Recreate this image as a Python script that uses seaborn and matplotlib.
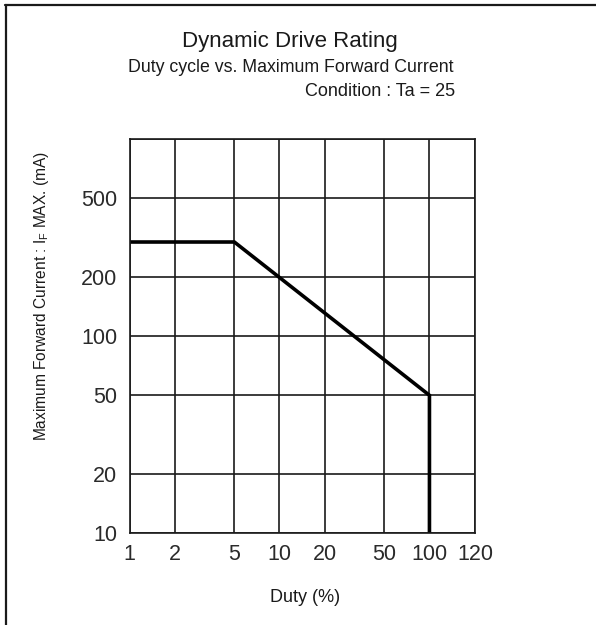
import numpy as np
import pandas as pd
import matplotlib
matplotlib.use("Agg")
import matplotlib.pyplot as plt
from matplotlib.lines import Line2D
import seaborn as sns

# Derating curve: duty cycle (%) vs. maximum forward current (mA)
duty = [1, 5, 100, 100]
current = [300, 300, 50, 10]

x_ticks = [1, 2, 5, 10, 20, 50, 100, 120]
y_ticks = [10, 20, 50, 100, 200, 500]
y_grid = [10, 20, 50, 100, 200, 500, 1000]

sns.set_theme(style="white")
plt.rcParams["font.family"] = ["Liberation Sans", "DejaVu Sans"]
plt.rcParams["mathtext.fontset"] = "custom"
plt.rcParams["mathtext.rm"] = "Liberation Sans"

ink = "#1a1a1a"


def fwd(x):
    x = np.asarray(x, dtype=float)
    xc = np.clip(x, 1e-6, None)
    return np.where(x <= 100, np.log10(xc), 2 + (x - 100) * 0.307 / 20)


def inv(v):
    v = np.asarray(v, dtype=float)
    return np.where(v <= 2, 10 ** np.minimum(v, 2), 100 + (v - 2) * 20 / 0.307)


fig = plt.figure(figsize=(5.96, 6.25), dpi=100)
ax = fig.add_axes([0.2173, 0.1472, 0.5805, 0.6304])

df = pd.DataFrame({"duty": duty, "current": current})
sns.lineplot(data=df, x="duty", y="current", sort=False, estimator=None,
             ax=ax, color="black", linewidth=2.6, solid_joinstyle="miter")

ax.set_xscale("function", functions=(fwd, inv))
ax.set_yscale("log")
ax.set_xlim(1, 120)
ax.set_ylim(10, 1000)

for xv in x_ticks:
    ax.axvline(xv, color=ink, linewidth=1.2, zorder=0)
for yv in y_grid:
    ax.axhline(yv, color=ink, linewidth=1.2, zorder=0)

ax.set_xticks(x_ticks)
ax.set_xticklabels([str(v) for v in x_ticks])
ax.set_yticks(y_ticks)
ax.set_yticklabels([str(v) for v in y_ticks])
ax.minorticks_off()
ax.tick_params(axis="both", length=0, labelsize=15.5, colors="#2a2a2a")
ax.tick_params(axis="x", pad=8)
ax.tick_params(axis="y", pad=9)

for sp in ax.spines.values():
    sp.set_visible(True)
    sp.set_color(ink)
    sp.set_linewidth(1.2)

ax.set_xlabel("")
ax.set_ylabel("")

fig.text(305 / 596, 1 - 598 / 625, "Duty (%)", ha="center", va="center",
         fontsize=13, color="#1a1a1a")
fig.text(42 / 596, 1 - 296 / 625,
         r"Maximum Forward Current : I$_{\mathregular{F}}$ MAX. (mA)",
         rotation=90, ha="center", va="center", fontsize=11.2, color="#1a1a1a")

fig.text(290 / 596, 1 - 42 / 625, "Dynamic Drive Rating", ha="center",
         va="center", fontsize=16, color="#1a1a1a")
fig.text(291 / 596, 1 - 68 / 625, "Duty cycle vs. Maximum Forward Current",
         ha="center", va="center", fontsize=12.8, color="#1a1a1a")
fig.text(455 / 596, 1 - 91 / 625, "Condition : Ta = 25", ha="right",
         va="center", fontsize=13, color="#1a1a1a")

# outer frame: top and left edges
fig.add_artist(Line2D([5 / 596, 1], [1 - 5 / 625, 1 - 5 / 625],
                      transform=fig.transFigure, color=ink, linewidth=1.6))
fig.add_artist(Line2D([6 / 596, 6 / 596], [0, 1 - 5 / 625],
                      transform=fig.transFigure, color=ink, linewidth=1.6))

fig.savefig("out.png", dpi=100)
